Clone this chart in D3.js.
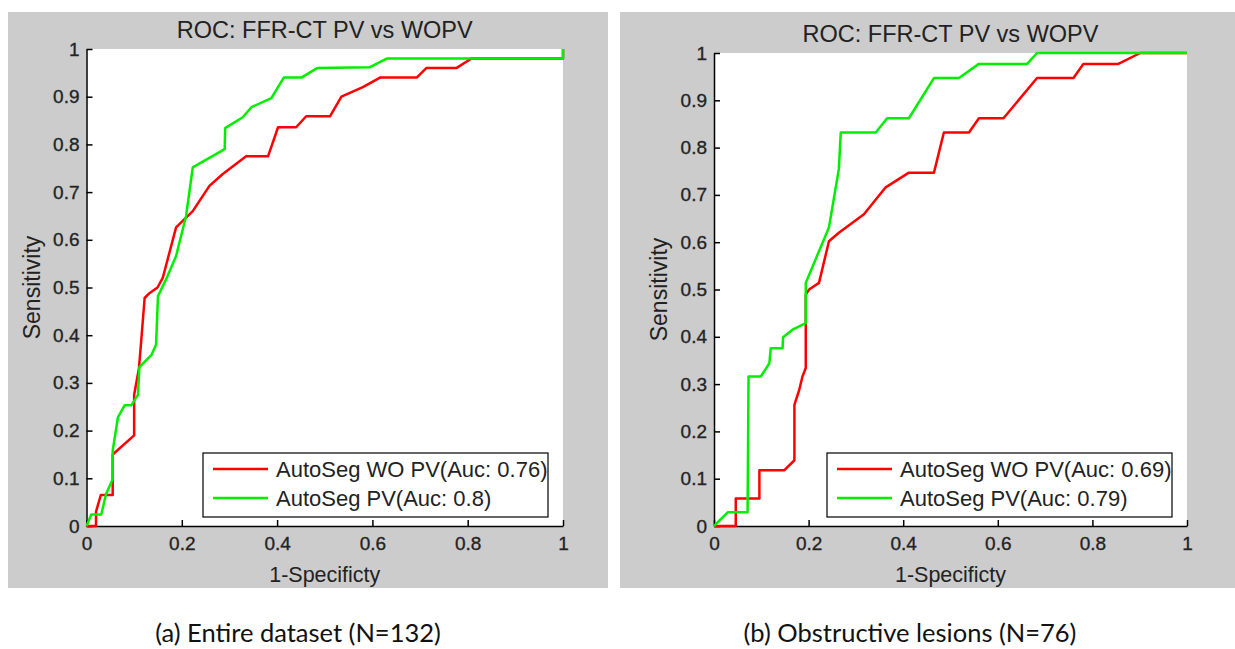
<!DOCTYPE html>
<html>
<head>
<meta charset="utf-8">
<script src="https://cdn.jsdelivr.net/npm/d3@7"></script>
<style>
  body { margin: 0; background: #fff; }
  text { font-family: "Liberation Sans", Arial, sans-serif; fill: #222; }
  .caption { font-family: Lato, "Open Sans", sans-serif; fill: #111; }
</style>
</head>
<body>
<script>
//ROC data: [1-specificity, sensitivity]
var entireWOPV = [[0,0],[0.02,0],[0.02,0.03],[0.03,0.065],[0.055,0.065],[0.055,0.15],[0.10,0.19],[0.10,0.275],
    [0.11,0.33],[0.115,0.39],[0.122,0.478],[0.132,0.488],[0.149,0.5],[0.16,0.52],[0.188,0.626],[0.223,0.66],
    [0.258,0.713],[0.286,0.738],[0.335,0.775],[0.381,0.775],[0.402,0.836],[0.44,0.836],[0.461,0.859],[0.511,0.859],
    [0.535,0.9],[0.58,0.92],[0.616,0.94],[0.693,0.94],[0.713,0.96],[0.776,0.96],[0.808,0.98],[1,0.98],[1,1]];
var entirePV = [[0,0],[0.01,0.024],[0.031,0.024],[0.041,0.067],[0.055,0.098],[0.055,0.158],[0.066,0.228],[0.08,0.253],
    [0.094,0.253],[0.108,0.275],[0.111,0.333],[0.136,0.358],[0.146,0.38],[0.15,0.482],[0.167,0.517],[0.188,0.566],
    [0.209,0.65],[0.223,0.752],[0.29,0.79],[0.291,0.834],[0.328,0.857],[0.346,0.878],[0.388,0.897],[0.414,0.94],
    [0.451,0.94],[0.484,0.96],[0.595,0.962],[0.63,0.98],[1,0.98],[1,1]];
var obstrWOPV = [[0,0],[0.046,0],[0.046,0.058],[0.096,0.058],[0.096,0.118],[0.149,0.118],[0.17,0.139],[0.17,0.256],
    [0.18,0.287],[0.187,0.316],[0.194,0.334],[0.194,0.489],[0.201,0.5],[0.222,0.514],[0.243,0.602],[0.264,0.62],
    [0.317,0.659],[0.363,0.716],[0.412,0.747],[0.465,0.747],[0.486,0.832],[0.539,0.832],[0.56,0.862],[0.612,0.862],
    [0.683,0.947],[0.76,0.947],[0.781,0.977],[0.855,0.977],[0.901,1],[1,1]];
var obstrPV = [[0,0],[0.029,0.029],[0.071,0.029],[0.073,0.316],[0.099,0.316],[0.117,0.344],[0.12,0.376],[0.145,0.376],
    [0.146,0.399],[0.166,0.415],[0.194,0.429],[0.194,0.514],[0.243,0.631],[0.264,0.755],[0.268,0.832],[0.342,0.832],
    [0.366,0.862],[0.412,0.862],[0.465,0.947],[0.518,0.947],[0.56,0.977],[0.662,0.977],[0.683,1],[1,1]];

var xTicks = [0, 0.2, 0.4, 0.6, 0.8, 1];
var yTicks = [0, 0.1, 0.2, 0.3, 0.4, 0.5, 0.6, 0.7, 0.8, 0.9, 1];
var legendEntire = ["AutoSeg WO PV(Auc: 0.76)", "AutoSeg PV(Auc: 0.8)"];
var legendObstr = ["AutoSeg WO PV(Auc: 0.69)", "AutoSeg PV(Auc: 0.79)"];
var captions = ["(a) Entire dataset (N=132)", "(b) Obstructive lesions (N=76)"];
var seriesColors = ["#ff0000", "#00ee00"];

var width = 1235, height = 649;

var svg = d3.select("body")
    .append("svg")
    .attr("width", width)
    .attr("height", height);

drawPanel({bg: [8, 12, 600, 576], x0: 86.5, x1: 563, y0: 526, y1: 49,
    series: [entireWOPV, entirePV], legend: legendEntire, caption: captions[0], capX: 298});
drawPanel({bg: [620, 12, 615, 576], x0: 714, x1: 1187, y0: 526, y1: 53,
    series: [obstrWOPV, obstrPV], legend: legendObstr, caption: captions[1], capX: 910});

function drawPanel(p){
    //grey figure background
    svg.append("rect")
        .attr("x", p.bg[0]).attr("y", p.bg[1])
        .attr("width", p.bg[2]).attr("height", p.bg[3])
        .attr("fill", "#cccccc");

    var x = d3.scaleLinear().domain([0, 1]).range([p.x0, p.x1]),
        y = d3.scaleLinear().domain([0, 1]).range([p.y0, p.y1]);

    svg.append("rect")
        .attr("x", p.x0).attr("y", p.y1)
        .attr("width", p.x1 - p.x0).attr("height", p.y0 - p.y1)
        .attr("fill", "#fff");

    //axes with inward ticks, matlab style
    var xAxis = svg.append("g")
        .attr("transform", "translate(0," + p.y0 + ")")
        .call(d3.axisBottom(x).tickValues(xTicks).tickSizeInner(-6).tickSizeOuter(0).tickPadding(11)
            .tickFormat(d3.format("")));
    var yAxis = svg.append("g")
        .attr("transform", "translate(" + p.x0 + ",0)")
        .call(d3.axisLeft(y).tickValues(yTicks).tickSizeInner(-6).tickSizeOuter(0).tickPadding(7)
            .tickFormat(d3.format("")));
    [xAxis, yAxis].forEach(function(a){
        a.select(".domain").attr("stroke", "#000").attr("stroke-width", 1.5);
        a.selectAll(".tick line").attr("stroke", "#000").attr("stroke-width", 1.5);
        a.selectAll(".tick text")
            .style("font-size", "19px").style("font-family", "Liberation Sans, Arial")
            .attr("fill", "#2a2a2a").attr("stroke", "#2a2a2a").attr("stroke-width", 0.35);
    });

    //roc curves
    var line = d3.line()
        .x(function(d){ return x(d[0]); })
        .y(function(d){ return y(d[1]); });
    p.series.forEach(function(s, i){
        svg.append("path")
            .datum(s)
            .attr("d", line)
            .attr("fill", "none")
            .attr("stroke", seriesColors[i])
            .attr("stroke-width", 2.5)
            .attr("stroke-linejoin", "round");
    });

    //title and axis labels
    var cx = (p.x0 + p.x1) / 2;
    svg.append("text")
        .attr("x", cx).attr("y", p.y1 - 11)
        .attr("text-anchor", "middle")
        .style("font-size", "23.5px")
        .text("ROC: FFR-CT PV vs WOPV");
    svg.append("text")
        .attr("x", cx).attr("y", p.y0 + 56)
        .attr("text-anchor", "middle")
        .style("font-size", "21.5px")
        .text("1-Specificty");
    svg.append("text")
        .attr("transform", "translate(" + (p.x0 - 47) + "," + ((p.y0 + p.y1) / 2) + ") rotate(-90)")
        .attr("text-anchor", "middle")
        .style("font-size", "23px")
        .text("Sensitivity");

    //legend
    var lw = 345, lh = 64,
        lx = p.x1 - 15 - lw, ly = p.y0 - 9 - lh;
    var lg = svg.append("g").attr("transform", "translate(" + lx + "," + ly + ")");
    lg.append("rect")
        .attr("width", lw).attr("height", lh)
        .attr("fill", "#fff").attr("stroke", "#000").attr("stroke-width", 1.2);
    p.legend.forEach(function(t, i){
        var ry = 16 + i * 29;
        lg.append("line")
            .attr("x1", 10).attr("x2", 65)
            .attr("y1", ry).attr("y2", ry)
            .attr("stroke", seriesColors[i]).attr("stroke-width", 2.5);
        lg.append("text")
            .attr("x", 73).attr("y", ry + 8)
            .style("font-size", "22px")
            .text(t);
    });

    //caption under the figure
    svg.append("text")
        .attr("class", "caption")
        .attr("x", p.capX).attr("y", 642)
        .attr("text-anchor", "middle")
        .style("font-size", "25.5px")
        .text(p.caption);
}
</script>
</body>
</html>
